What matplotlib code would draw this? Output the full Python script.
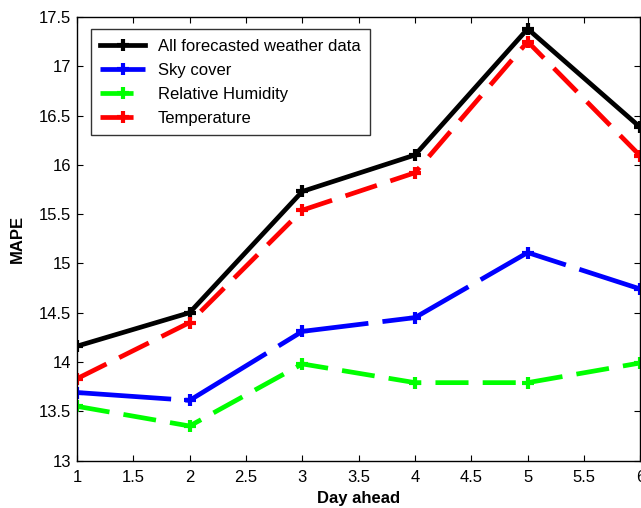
import matplotlib.pyplot as plt

plt.rcParams['font.family'] = ['Liberation Sans', 'DejaVu Sans']

# MAPE por día de pronóstico
dias = [1, 2, 3, 4, 5, 6]
todos = [14.16, 14.50, 15.73, 16.10, 17.38, 16.38]
cielo = [13.69, 13.61, 14.31, 14.45, 15.11, 14.74]
humedad = [13.55, 13.35, 13.98, 13.79, 13.79, 13.99]
temperatura = [13.83, 14.40, 15.54, 15.92, 17.25, 16.09]

fig = plt.figure(figsize=(6.41, 5.08), dpi=100)
ax = fig.add_axes([0.120, 0.0935, 0.879, 0.873])

ax.plot(dias, todos, color='black', lw=3.4, ls='-', marker='+', ms=8, mew=3,
        label='All forecasted weather data')
ax.plot(dias, cielo, color='blue', lw=3.4, ls=(0, (20, 3)), marker='+', ms=8, mew=3,
        label='Sky cover')
ax.plot(dias, humedad, color='#00ff00', lw=3.4, ls=(0, (7, 3)), marker='+', ms=8, mew=3,
        label='Relative Humidity')
ax.plot(dias, temperatura, color='red', lw=3.4, ls=(0, (7, 3)), marker='+', ms=8, mew=3,
        label='Temperature')

ax.set_xlim(1, 6)
ax.set_ylim(13, 17.5)
ax.set_xticks([1, 1.5, 2, 2.5, 3, 3.5, 4, 4.5, 5, 5.5, 6])
ax.set_xticklabels(['1', '1.5', '2', '2.5', '3', '3.5', '4', '4.5', '5', '5.5', '6'])
ax.set_yticks([13, 13.5, 14, 14.5, 15, 15.5, 16, 16.5, 17, 17.5])
ax.set_yticklabels(['13', '13.5', '14', '14.5', '15', '15.5', '16', '16.5', '17', '17.5'])
ax.tick_params(direction='in', top=True, right=True, labelsize=12, length=4)
ax.tick_params(axis='x', pad=7)
ax.tick_params(axis='y', pad=4)

for s in ax.spines.values():
    s.set_linewidth(1.0)

ax.set_xlabel('Day ahead', fontsize=12, fontweight='bold', labelpad=4)
ax.set_ylabel('MAPE', fontsize=12, fontweight='bold', labelpad=10)

leg = ax.legend(loc='upper left', bbox_to_anchor=(0.025, 0.972), fontsize=12,
                frameon=True, fancybox=False, edgecolor='black', handlelength=2.7,
                borderpad=0.55, labelspacing=0.55, handletextpad=0.75, borderaxespad=0)
leg.get_frame().set_linewidth(1.0)

fig.savefig('out.png', dpi=100)
